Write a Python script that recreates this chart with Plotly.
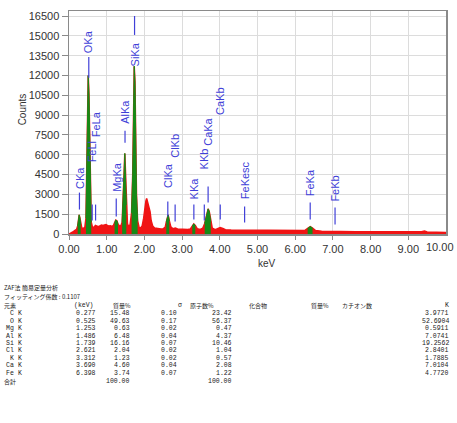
import plotly.graph_objects as go

# ---------------- spectrum data ----------------
energy_kev = [0.00, 0.05, 0.10, 0.15, 0.20, 0.23, 0.25, 0.27, 0.29, 0.31, 0.34, 0.38, 0.42, 0.45,
              0.47, 0.49, 0.51, 0.53, 0.55, 0.57, 0.59, 0.62, 0.66, 0.70, 0.74, 0.78, 0.82, 0.86,
              0.90, 0.94, 0.98, 1.02, 1.06, 1.10, 1.14, 1.18, 1.21, 1.24, 1.27, 1.30, 1.34, 1.38,
              1.41, 1.44, 1.46, 1.48, 1.50, 1.52, 1.55, 1.58, 1.62, 1.66, 1.69, 1.71, 1.73, 1.75,
              1.77, 1.79, 1.82, 1.86, 1.90, 1.94, 1.98, 2.01, 2.04, 2.06, 2.09, 2.12, 2.15, 2.18,
              2.22, 2.27, 2.32, 2.38, 2.44, 2.50, 2.55, 2.58, 2.61, 2.63, 2.66, 2.70, 2.76, 2.82,
              2.88, 2.95, 3.05, 3.15, 3.22, 3.27, 3.31, 3.35, 3.40, 3.48, 3.55, 3.60, 3.65, 3.69,
              3.72, 3.76, 3.80, 3.88, 3.95, 4.01, 4.08, 4.15, 4.30, 4.50, 4.70, 4.90, 5.10, 5.30,
              5.50, 5.70, 5.90, 6.10, 6.25, 6.33, 6.40, 6.46, 6.54, 6.70, 7.00, 7.06, 7.20, 7.60,
              8.00, 8.50, 9.00, 9.35, 9.43, 9.50, 10.00]
total_counts = [0, 60, 150, 250, 350, 600, 1100, 1450, 1200, 700, 450, 420, 500, 1200,
                4000, 9000, 12000, 10500, 6000, 2500, 900, 550, 480, 650, 600, 560, 620, 680,
                640, 700, 720, 650, 600, 620, 580, 650, 800, 1050, 1000, 750, 600, 650,
                900, 2500, 4500, 6100, 4800, 2200, 800, 550, 700, 1600, 4500, 8500, 12700, 11500,
                7000, 3000, 1000, 500, 450, 600, 1200, 2000, 2500, 2700, 2400, 2100, 1700, 1000,
                600, 450, 420, 400, 380, 400, 500, 900, 1400, 1450, 1000, 550, 400, 450,
                380, 360, 350, 340, 380, 600, 760, 650, 400, 350, 450, 800, 1500, 1900,
                1700, 900, 450, 330, 400, 480, 420, 330, 300, 290, 310, 270, 260, 250,
                250, 240, 230, 230, 260, 420, 560, 450, 260, 200, 200, 230, 190, 170,
                160, 150, 140, 170, 230, 160, 110]
# energy windows of identified element peaks (green)
peak_ranges_kev = [(0.23, 0.31), (0.45, 0.59), (1.21, 1.30), (1.41, 1.52), (1.66, 1.82),
                   (2.58, 2.66), (3.27, 3.35), (3.60, 3.76), (6.33, 6.46)]

line_names = ["CKa", "OKa", "FeLl", "FeLa", "MgKa", "AlKa", "SiKa", "ClKa", "ClKb",
              "KKa", "KKb", "CaKa", "CaKb", "FeKesc", "FeKa", "FeKb"]
line_energies = [0.277, 0.525, 0.615, 0.705, 1.253, 1.486, 1.739, 2.621, 2.815,
                 3.312, 3.589, 3.690, 4.012, 4.658, 6.398, 7.057]

x_ticks = [0, 1, 2, 3, 4, 5, 6, 7, 8, 9, 10]
y_ticks = [0, 1500, 3000, 4500, 6000, 7500, 9000, 10500, 12000, 13500, 15000, 16500]

# ---------------- table data ----------------
elements = ["C", "O", "Mg", "Al", "Si", "Cl", "K", "Ca", "Fe"]
kev_values = ["0.277", "0.525", "1.253", "1.486", "1.739", "2.621", "3.312", "3.690", "6.398"]
mass_pct = ["15.48", "49.63", "0.63", "6.48", "16.16", "2.04", "1.23", "4.60", "3.74"]
sigma_vals = ["0.10", "0.17", "0.02", "0.04", "0.07", "0.02", "0.02", "0.04", "0.07"]
atom_pct = ["23.42", "56.37", "0.47", "4.37", "10.46", "1.04", "0.57", "2.08", "1.22"]
k_vals = ["3.9771", "52.6904", "0.5911", "7.0741", "19.2562", "2.8401", "1.7885", "7.0104", "4.7720"]
total_mass = "100.00"
total_atom = "100.00"
fitting_coef = "0.1107"

# ---------------- layout geometry (pixels) ----------------
W, H = 457, 423
L, R, T = 69, 10.5, 11
PLOT_BOTTOM = 234.5
YMAX = 16880
plot_h = PLOT_BOTTOM - T
plot_w = W - L - R


def px_count(py):
    return (PLOT_BOTTOM - py) / plot_h * YMAX


def px_paper_x(px):
    return (px - L) / plot_w


def px_paper_y(py):
    return (PLOT_BOTTOM - py) / plot_h


RED = "#f01414"
GREEN = "#168a16"
BLUE = "#4040d8"

fig = go.Figure()
fig.add_trace(go.Scatter(x=energy_kev, y=total_counts, mode="lines", fill="tozeroy",
                         fillcolor=RED, line=dict(color=RED, width=1.5), hoverinfo="skip"))
for lo, hi in peak_ranges_kev:
    xs = [e for e in energy_kev if lo - 1e-9 <= e <= hi + 1e-9]
    ys = [c for e, c in zip(energy_kev, total_counts) if lo - 1e-9 <= e <= hi + 1e-9]
    fig.add_trace(go.Scatter(x=xs, y=ys, mode="lines", fill="tozeroy", fillcolor=GREEN,
                             line=dict(color=GREEN, width=1), hoverinfo="skip"))

# marker lines and labels (pixel positions)
line_px = [(193, 210), (57, 78), (205, 221), (205, 221), (199, 217), (131, 143), (16, 35),
           (202, 217), (205, 222), (205, 220), (205, 221), (187, 203), (205, 220), (207, 223),
           (203, 220), (208, 225)]
label_bottom_px = [190, 54, 164, 139, 193, 125, 68, 189, 159, 201, 171, 147, 116, 201, 198, 203]

shapes = []
annotations = []
for name, e, (y1, y0), lb in zip(line_names, line_energies, line_px, label_bottom_px):
    shapes.append(dict(type="line", xref="x", yref="y", x0=e, x1=e,
                       y0=px_count(y0), y1=px_count(y1), line=dict(color=BLUE, width=1.2)))
    annotations.append(dict(x=e, y=px_count(lb), xref="x", yref="y", text=name,
                            textangle=-90, showarrow=False, xanchor="center", yanchor="bottom",
                            font=dict(family="Liberation Sans", size=11, color=BLUE),
                            borderpad=0))

# axis titles and last tick label (kept inside the page edge)
annotations.append(dict(x=px_paper_x(15), y=px_paper_y(110), xref="paper", yref="paper",
                        text="Counts", textangle=-90, showarrow=False,
                        font=dict(family="Liberation Sans", size=10, color="#333")))
annotations.append(dict(x=px_paper_x(267), y=px_paper_y(272), xref="paper", yref="paper",
                        text="keV", showarrow=False,
                        font=dict(family="Liberation Sans", size=10, color="#333")))
annotations.append(dict(x=px_paper_x(456), y=px_paper_y(248), xref="paper", yref="paper",
                        text=f"{x_ticks[-1]:.2f}", showarrow=False, xanchor="right",
                        yanchor="middle", borderpad=0,
                        font=dict(family="Liberation Sans", size=11, color="#333")))

CJK = "Noto Sans CJK JP"
MONO = "Liberation Mono"
TXT = "#222"
CJK_SIZE = 6
MONO_SIZE = 6.5


def add_text(px, py, text, anchor="left", family=CJK, size=CJK_SIZE):
    annotations.append(dict(x=px_paper_x(px), y=px_paper_y(py), xref="paper", yref="paper",
                            text=text, showarrow=False, xanchor=anchor, yanchor="middle",
                            font=dict(family=family, size=size, color=TXT), borderpad=0))


add_text(3, 288, "ZAF法 簡易定量分析")
add_text(3, 297, "フィッティング係数 : " + fitting_coef)
add_text(3, 306, "元素")
add_text(73, 306, "(keV)", family=MONO, size=MONO_SIZE)
add_text(112, 306, "質量%")
add_text(177, 306, "σ", family=MONO, size=MONO_SIZE)
add_text(189, 306, "原子数%")
add_text(248, 306, "化合物")
add_text(310, 306, "質量%")
add_text(341, 306, "カチオン数")
add_text(451, 306, "K", anchor="right", family=MONO, size=MONO_SIZE)

row_y0 = 314.5
row_dy = 7.45
for i, el in enumerate(elements):
    y = row_y0 + i * row_dy
    add_text(15, y, el, anchor="right", family=MONO, size=MONO_SIZE)
    add_text(17, y, "K", anchor="left", family=MONO, size=MONO_SIZE)
    add_text(97, y, kev_values[i], anchor="right", family=MONO, size=MONO_SIZE)
    add_text(131, y, mass_pct[i], anchor="right", family=MONO, size=MONO_SIZE)
    add_text(178, y, sigma_vals[i], anchor="right", family=MONO, size=MONO_SIZE)
    add_text(233, y, atom_pct[i], anchor="right", family=MONO, size=MONO_SIZE)
    add_text(451, y, k_vals[i], anchor="right", family=MONO, size=MONO_SIZE)
y = row_y0 + (len(elements) - 1) * row_dy + 8.2
add_text(3, y, "合計")
add_text(131, y, total_mass, anchor="right", family=MONO, size=MONO_SIZE)
add_text(233, y, total_atom, anchor="right", family=MONO, size=MONO_SIZE)

axis_common = dict(showgrid=True, gridcolor="#dcdcdc", gridwidth=1,
                   showline=True, linecolor="#8a8a8a", linewidth=1.5, mirror=True,
                   ticks="outside", tickcolor="#8a8a8a",
                   tickfont=dict(family="Liberation Sans", size=11, color="#333"),
                   zeroline=False, fixedrange=True, automargin=False)

fig.update_layout(
    template="none",
    width=W, height=H,
    margin=dict(l=L, r=R, t=T, b=H - PLOT_BOTTOM, pad=0, autoexpand=False),
    paper_bgcolor="white", plot_bgcolor="white",
    showlegend=False,
    shapes=shapes, annotations=annotations,
    xaxis=dict(range=[0, 10], tickvals=x_ticks[:-1],
               ticktext=[f"{v:.2f}" for v in x_ticks[:-1]], ticklen=4, **axis_common),
    yaxis=dict(range=[0, YMAX], tickvals=y_ticks, ticktext=[str(v) for v in y_ticks],
               ticklen=6, **axis_common),
)

fig.write_html("out.html",
               config={"displayModeBar": False, "staticPlot": True},
               post_script="document.body.style.margin='0';document.body.style.padding='0';"
                           "document.body.style.overflow='hidden';")
